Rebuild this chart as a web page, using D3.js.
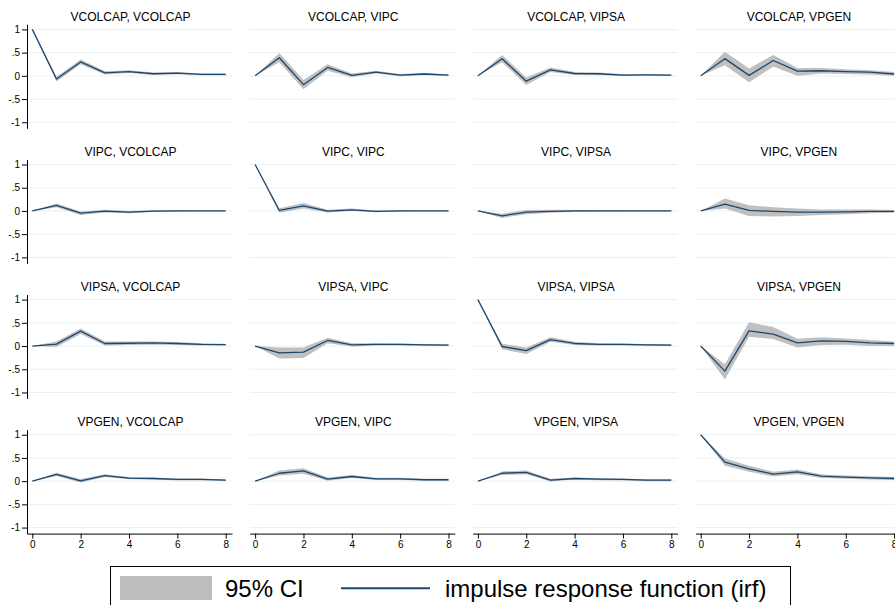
<!DOCTYPE html>
<html>
<head>
<meta charset="utf-8">
<script src="https://cdn.jsdelivr.net/npm/d3@7"></script>
<style>
  html, body { margin: 0; padding: 0; background: #fff; }
  svg { display: block; font-family: "Liberation Sans", Arial, Helvetica, sans-serif; }
</style>
</head>
<body>
<svg id="chart" width="895" height="605"></svg>
<script>
// ---------------- DATA ----------------
const steps = [0, 1, 2, 3, 4, 5, 6, 7, 8];
const impulses = ["VCOLCAP", "VIPC", "VIPSA", "VPGEN"];
const responses = ["VCOLCAP", "VIPC", "VIPSA", "VPGEN"];
const xTicks = [0, 2, 4, 6, 8];
const yTicks = [1, 0.5, 0, -0.5, -1];
const yTickLabels = ["1", ".5", "0", "-.5", "-1"];
const legendLabels = ["95% CI", "impulse response function (irf)"];

// impulse VCOLCAP
const irf_VCOLCAP_VCOLCAP = [1, -0.07, 0.30, 0.065, 0.09, 0.045, 0.06, 0.03, 0.03];
const lo_VCOLCAP_VCOLCAP  = [1, -0.12, 0.25, 0.03, 0.06, 0.02, 0.035, 0.01, 0.01];
const hi_VCOLCAP_VCOLCAP  = [1, -0.02, 0.35, 0.10, 0.12, 0.07, 0.085, 0.05, 0.05];

const irf_VCOLCAP_VIPC = [0, 0.39, -0.19, 0.18, 0.01, 0.08, 0.015, 0.04, 0.015];
const lo_VCOLCAP_VIPC  = [0, 0.29, -0.29, 0.11, -0.03, 0.05, -0.01, 0.02, 0.0];
const hi_VCOLCAP_VIPC  = [0, 0.49, -0.09, 0.25, 0.05, 0.11, 0.04, 0.06, 0.03];

const irf_VCOLCAP_VIPSA = [0, 0.37, -0.115, 0.13, 0.05, 0.045, 0.015, 0.02, 0.015];
const lo_VCOLCAP_VIPSA  = [0, 0.29, -0.195, 0.08, 0.02, 0.02, -0.005, 0.0, 0.0];
const hi_VCOLCAP_VIPSA  = [0, 0.45, -0.035, 0.18, 0.08, 0.07, 0.035, 0.04, 0.03];

const irf_VCOLCAP_VPGEN = [0, 0.37, 0.01, 0.33, 0.10, 0.11, 0.09, 0.08, 0.04];
const lo_VCOLCAP_VPGEN  = [0, 0.23, -0.14, 0.20, 0.0, 0.05, 0.04, 0.03, 0.0];
const hi_VCOLCAP_VPGEN  = [0, 0.52, 0.16, 0.45, 0.17, 0.17, 0.14, 0.12, 0.08];

// impulse VIPC
const irf_VIPC_VCOLCAP = [0, 0.118, -0.047, -0.005, -0.026, -0.005, 0, 0, 0];
const lo_VIPC_VCOLCAP  = [0, 0.08, -0.09, -0.035, -0.05, -0.025, -0.015, -0.01, -0.01];
const hi_VIPC_VCOLCAP  = [0, 0.16, -0.01, 0.025, 0.0, 0.015, 0.015, 0.01, 0.01];

const irf_VIPC_VIPC = [1, 0.01, 0.11, -0.005, 0.025, -0.01, 0, 0, 0];
const lo_VIPC_VIPC  = [1, -0.04, 0.05, -0.035, 0.0, -0.03, -0.015, -0.01, -0.01];
const hi_VIPC_VIPC  = [1, 0.06, 0.17, 0.025, 0.05, 0.01, 0.015, 0.01, 0.01];

const irf_VIPC_VIPSA = [0, -0.105, -0.026, -0.01, 0, 0, 0, 0, 0];
const lo_VIPC_VIPSA  = [0, -0.15, -0.07, -0.04, -0.025, -0.02, -0.015, -0.01, -0.01];
const hi_VIPC_VIPSA  = [0, -0.06, 0.02, 0.025, 0.02, 0.015, 0.01, 0.01, 0.01];

const irf_VIPC_VPGEN = [0, 0.146, 0.01, -0.01, -0.026, -0.026, -0.02, -0.01, -0.01];
const lo_VIPC_VPGEN  = [0, 0.05, -0.11, -0.12, -0.11, -0.09, -0.07, -0.05, -0.04];
const hi_VIPC_VPGEN  = [0, 0.27, 0.12, 0.08, 0.05, 0.03, 0.03, 0.03, 0.02];

// impulse VIPSA
const irf_VIPSA_VCOLCAP = [0, 0.04, 0.32, 0.055, 0.06, 0.07, 0.055, 0.035, 0.03];
const lo_VIPSA_VCOLCAP  = [0, -0.02, 0.26, 0.01, 0.02, 0.03, 0.02, 0.01, 0.01];
const hi_VIPSA_VCOLCAP  = [0, 0.10, 0.38, 0.10, 0.10, 0.10, 0.085, 0.06, 0.05];

const irf_VIPSA_VIPC = [0, -0.146, -0.13, 0.12, 0.027, 0.034, 0.034, 0.027, 0.02];
const lo_VIPSA_VIPC  = [0, -0.27, -0.26, 0.06, -0.01, 0.01, 0.01, 0.005, 0.0];
const hi_VIPSA_VIPC  = [0, -0.03, -0.03, 0.18, 0.06, 0.06, 0.055, 0.045, 0.04];

const irf_VIPSA_VIPSA = [1, -0.01, -0.10, 0.14, 0.055, 0.034, 0.034, 0.027, 0.02];
const lo_VIPSA_VIPSA  = [1, -0.07, -0.17, 0.09, 0.02, 0.01, 0.01, 0.005, 0.0];
const hi_VIPSA_VIPSA  = [1, 0.05, -0.03, 0.19, 0.09, 0.06, 0.055, 0.045, 0.04];

const irf_VIPSA_VPGEN = [0, -0.54, 0.327, 0.255, 0.07, 0.11, 0.10, 0.07, 0.055];
const lo_VIPSA_VPGEN  = [0, -0.72, 0.20, 0.15, -0.03, 0.02, 0.03, 0.0, 0.0];
const hi_VIPSA_VPGEN  = [0, -0.39, 0.51, 0.41, 0.155, 0.19, 0.16, 0.13, 0.10];

// impulse VPGEN
const irf_VPGEN_VCOLCAP = [0, 0.143, 0.007, 0.12, 0.065, 0.057, 0.036, 0.036, 0.02];
const lo_VPGEN_VCOLCAP  = [0, 0.11, -0.03, 0.09, 0.04, 0.035, 0.015, 0.015, 0.005];
const hi_VPGEN_VCOLCAP  = [0, 0.18, 0.045, 0.15, 0.09, 0.08, 0.055, 0.055, 0.035];

const irf_VPGEN_VIPC = [0, 0.17, 0.22, 0.043, 0.10, 0.05, 0.05, 0.03, 0.03];
const lo_VPGEN_VIPC  = [0, 0.12, 0.16, 0.01, 0.07, 0.025, 0.025, 0.01, 0.01];
const hi_VPGEN_VIPC  = [0, 0.23, 0.28, 0.08, 0.13, 0.075, 0.075, 0.05, 0.05];

const irf_VPGEN_VIPSA = [0, 0.17, 0.19, 0.02, 0.057, 0.043, 0.036, 0.02, 0.02];
const lo_VPGEN_VIPSA  = [0, 0.13, 0.15, -0.01, 0.035, 0.02, 0.015, 0.0, 0.0];
const hi_VPGEN_VIPSA  = [0, 0.21, 0.23, 0.05, 0.08, 0.065, 0.055, 0.04, 0.04];

const irf_VPGEN_VPGEN = [1, 0.41, 0.265, 0.15, 0.20, 0.107, 0.086, 0.07, 0.057];
const lo_VPGEN_VPGEN  = [1, 0.33, 0.20, 0.10, 0.15, 0.07, 0.05, 0.035, 0.025];
const hi_VPGEN_VPGEN  = [1, 0.49, 0.33, 0.20, 0.25, 0.145, 0.12, 0.105, 0.09];

// lookup table built from the named arrays
const panelData = {
  "VCOLCAP|VCOLCAP": [irf_VCOLCAP_VCOLCAP, lo_VCOLCAP_VCOLCAP, hi_VCOLCAP_VCOLCAP],
  "VCOLCAP|VIPC": [irf_VCOLCAP_VIPC, lo_VCOLCAP_VIPC, hi_VCOLCAP_VIPC],
  "VCOLCAP|VIPSA": [irf_VCOLCAP_VIPSA, lo_VCOLCAP_VIPSA, hi_VCOLCAP_VIPSA],
  "VCOLCAP|VPGEN": [irf_VCOLCAP_VPGEN, lo_VCOLCAP_VPGEN, hi_VCOLCAP_VPGEN],
  "VIPC|VCOLCAP": [irf_VIPC_VCOLCAP, lo_VIPC_VCOLCAP, hi_VIPC_VCOLCAP],
  "VIPC|VIPC": [irf_VIPC_VIPC, lo_VIPC_VIPC, hi_VIPC_VIPC],
  "VIPC|VIPSA": [irf_VIPC_VIPSA, lo_VIPC_VIPSA, hi_VIPC_VIPSA],
  "VIPC|VPGEN": [irf_VIPC_VPGEN, lo_VIPC_VPGEN, hi_VIPC_VPGEN],
  "VIPSA|VCOLCAP": [irf_VIPSA_VCOLCAP, lo_VIPSA_VCOLCAP, hi_VIPSA_VCOLCAP],
  "VIPSA|VIPC": [irf_VIPSA_VIPC, lo_VIPSA_VIPC, hi_VIPSA_VIPC],
  "VIPSA|VIPSA": [irf_VIPSA_VIPSA, lo_VIPSA_VIPSA, hi_VIPSA_VIPSA],
  "VIPSA|VPGEN": [irf_VIPSA_VPGEN, lo_VIPSA_VPGEN, hi_VIPSA_VPGEN],
  "VPGEN|VCOLCAP": [irf_VPGEN_VCOLCAP, lo_VPGEN_VCOLCAP, hi_VPGEN_VCOLCAP],
  "VPGEN|VIPC": [irf_VPGEN_VIPC, lo_VPGEN_VIPC, hi_VPGEN_VIPC],
  "VPGEN|VIPSA": [irf_VPGEN_VIPSA, lo_VPGEN_VIPSA, hi_VPGEN_VIPSA],
  "VPGEN|VPGEN": [irf_VPGEN_VPGEN, lo_VPGEN_VPGEN, hi_VPGEN_VPGEN]
};

// ---------------- LAYOUT ----------------
const colX0 = 27, colStep = 222.8, plotW = 205;
const rowY0 = 24.3, rowStep = 135.1, plotH = 104;
const lineColor = "#1a476f", ciColor = "#c0c0c0", gridColor = "#e9f0f0";

const svg = d3.select("#chart");
svg.append("rect").attr("width", 895).attr("height", 605).attr("fill", "#fff");

const x = d3.scaleLinear().domain([-0.22, 8.26]).range([0, plotW]);
const y = d3.scaleLinear().domain([-1.13, 1.11]).range([plotH, 0]);

const area = d3.area().x((d, i) => x(steps[i])).y0(d => y(d[0])).y1(d => y(d[1]));
const line = d3.line().x((d, i) => x(steps[i])).y(d => y(d));

impulses.forEach((imp, r) => {
  responses.forEach((resp, c) => {
    const [irf, lo, hi] = panelData[imp + "|" + resp];
    const g = svg.append("g")
      .attr("transform", `translate(${colX0 + c * colStep},${rowY0 + r * rowStep})`);

    // gridlines
    g.selectAll("line.grid").data(yTicks).enter().append("line")
      .attr("x1", 0).attr("x2", plotW)
      .attr("y1", d => y(d)).attr("y2", d => y(d))
      .attr("stroke", gridColor).attr("stroke-width", 1);

    // CI band
    g.append("path")
      .datum(lo.map((v, i) => [v, hi[i]]))
      .attr("d", area)
      .attr("fill", ciColor);

    // irf line
    g.append("path")
      .datum(irf)
      .attr("d", line)
      .attr("fill", "none")
      .attr("stroke", lineColor)
      .attr("stroke-width", 1.3)
      .attr("stroke-linejoin", "round");

    // title
    g.append("text")
      .attr("x", plotW / 2 + 1).attr("y", -3.6)
      .attr("text-anchor", "middle")
      .attr("font-size", 12)
      .attr("fill", "#000")
      .text(`${imp}, ${resp}`);

    // y axis in first column
    if (c === 0) {
      const ya = g.append("g").call(
        d3.axisLeft(y).tickValues(yTicks)
          .tickFormat((d, i) => yTickLabels[i])
          .tickSize(5).tickSizeOuter(0).tickPadding(2)
      );
      ya.selectAll("text").attr("font-size", 10).attr("fill", "#000")
        .attr("font-family", "Liberation Sans, Arial, sans-serif");
      ya.selectAll("line, path").attr("stroke", "#000");
    }
    // x axis in last row
    if (r === impulses.length - 1) {
      const xa = g.append("g").attr("transform", `translate(0,${plotH})`).call(
        d3.axisBottom(x).tickValues(xTicks)
          .tickSize(5).tickSizeOuter(0).tickPadding(2)
      );
      xa.selectAll("text").attr("font-size", 10).attr("fill", "#000")
        .attr("font-family", "Liberation Sans, Arial, sans-serif");
      xa.selectAll("line, path").attr("stroke", "#000");
    }
  });
});

// ---------------- LEGEND ----------------
const lg = svg.append("g");
lg.append("rect")
  .attr("x", 110.5).attr("y", 566.5).attr("width", 680).attr("height", 60)
  .attr("fill", "#fff").attr("stroke", "#000").attr("stroke-width", 1);
lg.append("rect")
  .attr("x", 120).attr("y", 576).attr("width", 92).attr("height", 24)
  .attr("fill", "#bebebe");
lg.append("text")
  .attr("x", 225).attr("y", 597.3)
  .attr("font-size", 24).attr("fill", "#000")
  .text(legendLabels[0]);
lg.append("line")
  .attr("x1", 341).attr("x2", 430).attr("y1", 588.3).attr("y2", 588.3)
  .attr("stroke", lineColor).attr("stroke-width", 2);
lg.append("text")
  .attr("x", 445).attr("y", 597.3)
  .attr("font-size", 24).attr("fill", "#000")
  .text(legendLabels[1]);
</script>
</body>
</html>
